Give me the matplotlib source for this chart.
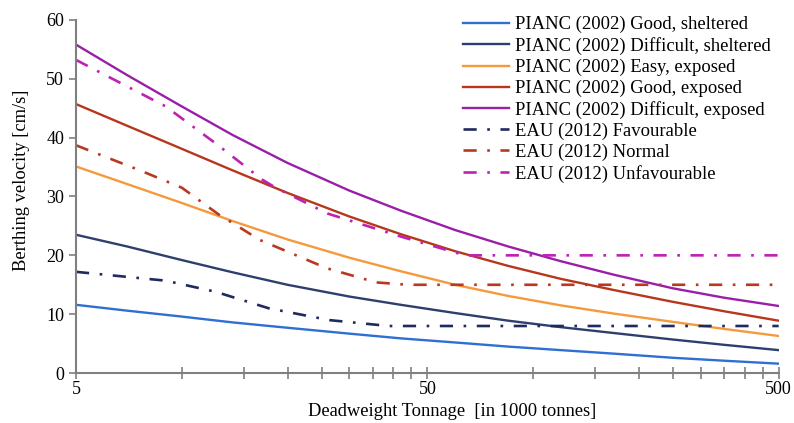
import matplotlib
matplotlib.use("Agg")
import matplotlib.pyplot as plt
from matplotlib.ticker import FixedLocator, FixedFormatter, NullFormatter
import numpy as np

plt.rcParams["font.family"] = ["Liberation Serif", "DejaVu Serif"]

# PIANC (2002) curves at common DWT points [1000 t]
dwt = [5, 7, 10, 14, 20, 30, 42, 60, 85, 120, 170, 250, 350, 500]
good_sheltered = [11.6, 10.6, 9.6, 8.6, 7.7, 6.7, 5.9, 5.2, 4.5, 3.9, 3.3, 2.6, 2.1, 1.6]
difficult_sheltered = [23.5, 21.5, 19.2, 17.1, 15.0, 13.0, 11.6, 10.2, 8.9, 7.8, 6.8, 5.7, 4.8, 3.9]
easy_exposed = [35.1, 32.1, 28.9, 25.8, 22.7, 19.6, 17.3, 15.0, 13.1, 11.5, 10.1, 8.7, 7.5, 6.3]
good_exposed = [45.7, 42.0, 38.1, 34.4, 30.6, 26.6, 23.6, 20.7, 18.2, 16.0, 14.1, 12.1, 10.5, 8.9]
difficult_exposed = [55.8, 50.6, 45.3, 40.4, 35.7, 31.0, 27.6, 24.3, 21.5, 19.0, 16.7, 14.4, 12.8, 11.4]

# EAU (2012) curves
eau_fav_x = [5, 9, 12.5, 17.7, 26.3, 38.8, 500]
eau_fav = [17.2, 15.7, 13.8, 11.0, 9.0, 8.0, 8.0]
eau_norm_x = [5, 7.7, 10, 12.7, 16.7, 25.9, 35.8, 44, 500]
eau_norm = [38.7, 34.3, 31.5, 27.0, 22.6, 17.8, 15.4, 15.0, 15.0]
eau_unfav_x = [5, 9, 12.5, 17, 18.5, 26, 42, 64, 500]
eau_unfav = [53.2, 45.3, 39.0, 32.8, 31.5, 27.1, 23.2, 20.0, 20.0]

solid = [
    ("PIANC (2002) Good, sheltered", good_sheltered, "#2f6fd2"),
    ("PIANC (2002) Difficult, sheltered", difficult_sheltered, "#2e3f6e"),
    ("PIANC (2002) Easy, exposed", easy_exposed, "#f59a3c"),
    ("PIANC (2002) Good, exposed", good_exposed, "#b8361c"),
    ("PIANC (2002) Difficult, exposed", difficult_exposed, "#9a1fa8"),
]
dashed = [
    ("EAU (2012) Favourable", eau_fav_x, eau_fav, "#1f2a5e"),
    ("EAU (2012) Normal", eau_norm_x, eau_norm, "#b8391f"),
    ("EAU (2012) Unfavourable", eau_unfav_x, eau_unfav, "#c021b4"),
]

fig = plt.figure(figsize=(7.94, 4.23), dpi=100)
ax = fig.add_axes([0.0957, 0.118, 0.885, 0.835])

for lab, y, c in solid:
    ax.plot(dwt, y, color=c, lw=1.7, label=lab)
for lab, x, y, c in dashed:
    ax.plot(x, y, color=c, lw=1.9, ls=(0, (5, 4, 1, 4)), label=lab)

ax.set_xscale("log")
ax.set_xlim(5, 500)
ax.set_ylim(0, 60)
ax.xaxis.set_major_locator(FixedLocator([5, 50, 500]))
ax.xaxis.set_major_formatter(FixedFormatter(["5", "50", "500"]))
minors = [v for v in np.arange(10, 500, 5) if v < 50 or (v > 50 and v % 50 == 0)]
ax.xaxis.set_minor_locator(FixedLocator(minors))
ax.xaxis.set_minor_formatter(NullFormatter())
ax.set_yticks(range(0, 61, 10))

for s in ["top", "right"]:
    ax.spines[s].set_visible(False)
for s in ["left", "bottom"]:
    ax.spines[s].set_color("#808080")
    ax.spines[s].set_linewidth(1.5)
ax.tick_params(axis="x", which="both", direction="inout", length=8, width=1.2,
               color="#808080", labelsize=13, pad=2)
ax.tick_params(axis="y", direction="out", length=5, width=1.2,
               color="#808080", labelsize=13)

ax.set_xlabel("Deadweight Tonnage  [in 1000 tonnes]", fontsize=13.3)
ax.xaxis.set_label_coords(0.535, -0.085)
ax.set_ylabel("Berthing velocity [cm/s]", fontsize=13.3)
ax.yaxis.set_label_coords(-0.066, 0.547)

ax.legend(loc="upper left", bbox_to_anchor=(0.583, 0.962), bbox_transform=fig.transFigure,
          frameon=False, fontsize=13.4, labelspacing=0.2, handlelength=2.5,
          handletextpad=0.32, borderpad=0, borderaxespad=0)

fig.savefig("out.png", dpi=100)
